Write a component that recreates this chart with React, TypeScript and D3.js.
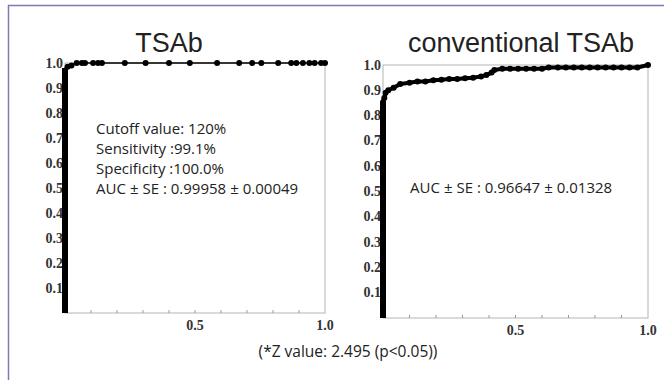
import React, { useRef, useEffect } from 'react';
import * as d3 from 'd3';

// TSAb ROC curve (1 - specificity, sensitivity)
const tsabFpr = [0, 0, 0.01, 0.025, 0.045, 0.065, 0.077, 0.108, 0.127, 0.142, 0.23, 0.31, 0.4, 0.48, 0.585, 0.67, 0.72, 0.755, 0.82, 0.87, 0.89, 0.915, 0.94, 0.96, 0.985, 1.0];
const tsabTpr = [0, 0.98, 0.985, 0.99, 1, 1, 1, 1, 1, 1, 1, 1, 1, 1, 1, 1, 1, 1, 1, 1, 1, 1, 1, 1, 1, 1];

// conventional TSAb ROC curve
const convFpr = [0, 0, 0.005, 0.01, 0.02, 0.04, 0.065, 0.1, 0.13, 0.16, 0.19, 0.22, 0.25, 0.28, 0.31, 0.34, 0.37, 0.39, 0.41, 0.42, 0.45, 0.48, 0.51, 0.54, 0.57, 0.6, 0.625, 0.66, 0.69, 0.72, 0.75, 0.78, 0.81, 0.84, 0.87, 0.9, 0.93, 0.96, 1.0];
const convTpr = [0, 0.86, 0.87, 0.89, 0.9, 0.91, 0.925, 0.93, 0.935, 0.935, 0.94, 0.942, 0.945, 0.945, 0.948, 0.95, 0.955, 0.96, 0.97, 0.98, 0.985, 0.985, 0.985, 0.985, 0.985, 0.985, 0.99, 0.99, 0.99, 0.99, 0.99, 0.99, 0.99, 0.99, 0.99, 0.99, 0.99, 0.99, 1.0];

const yTicks = [0.1, 0.2, 0.3, 0.4, 0.5, 0.6, 0.7, 0.8, 0.9, 1.0];
const xTicks = [0.5, 1.0];
const minorTicks = [0.1, 0.2, 0.3, 0.4, 0.5, 0.6, 0.7, 0.8, 0.9];

const leftNotes = ['Cutoff  value: 120%', 'Sensitivity :99.1%', 'Specificity :100.0%', 'AUC\u00B1SE : 0.99958\u00B10.00049'];
const rightNotes = ['AUC\u00B1SE : 0.96647\u00B10.01328'];

const App = () => {
  const ref = useRef<SVGSVGElement>(null);

  useEffect(() => {
    const svg = d3.select(ref.current);
    svg.selectAll('*').remove();

    svg.append('rect').attr('width', 664).attr('height', 380).attr('fill', '#fff');
    // outer frame (top + left)
    svg.append('path')
      .attr('d', 'M8.5,380 V5.5 H664')
      .attr('fill', 'none')
      .attr('stroke', '#8475b5')
      .attr('stroke-width', 1.5);

    // wide "±" like the original full-width glyph
    const writeNote = (t, s) => {
      s.split('\u00B1').forEach((part, k) => {
        if (k > 0) t.append('tspan').attr('dx', 4).text('\u00B1');
        t.append('tspan').attr('dx', k > 0 ? 4 : 0).text(part);
      });
    };

    const panel = (opts) => {
      const { x0, x1, y0, y1, fpr, tpr, title, titleX, notes, noteX, thick } = opts;
      const x = d3.scaleLinear().domain([0, 1]).range([x0, x1]);
      const y = d3.scaleLinear().domain([0, 1]).range([y0, y1]);
      const g = svg.append('g');

      // frame
      g.append('rect')
        .attr('x', x(0)).attr('y', y(1))
        .attr('width', x(1) - x(0)).attr('height', y(0) - y(1))
        .attr('fill', 'none').attr('stroke', '#b4b4b4').attr('stroke-width', 1);

      g.selectAll('.minor').data(minorTicks).join('line')
        .attr('x1', d => x(d)).attr('x2', d => x(d))
        .attr('y1', y(0)).attr('y2', y(0) - 3)
        .attr('stroke', '#999').attr('stroke-width', 1);

      g.selectAll('.ylab').data(yTicks).join('text')
        .attr('x', x(0) - 2).attr('y', d => y(d) + 4.5)
        .attr('text-anchor', 'end')
        .attr('font-family', 'Liberation Serif').attr('font-weight', 'bold')
        .attr('font-size', 14).attr('fill', '#333')
        .text(d => d.toFixed(1));

      g.selectAll('.xlab').data(xTicks).join('text')
        .attr('x', d => x(d)).attr('y', y(0) + 17)
        .attr('text-anchor', 'middle')
        .attr('font-family', 'Liberation Serif').attr('font-weight', 'bold')
        .attr('font-size', 14).attr('fill', '#333')
        .text(d => d.toFixed(1));

      const pts = fpr.map((f, i) => [f, tpr[i]]);
      const line = d3.line().x(d => x(d[0])).y(d => y(d[1]));

      if (thick) {
        g.append('path').attr('d', line(pts.filter(d => d[0] === 0)))
          .attr('stroke', '#000').attr('stroke-width', 6).attr('fill', 'none');
        g.append('path').attr('d', line(pts))
          .attr('stroke', '#000').attr('stroke-width', 1.5).attr('fill', 'none');
      } else {
        g.append('path').attr('d', line(pts))
          .attr('stroke', '#000').attr('stroke-width', 4).attr('fill', 'none')
          .attr('stroke-linejoin', 'round');
        g.append('path').attr('d', line(pts.filter(d => d[0] === 0)))
          .attr('stroke', '#000').attr('stroke-width', 6).attr('fill', 'none');
      }

      g.selectAll('circle').data(pts.filter(d => d[0] > 0)).join('circle')
        .attr('cx', d => x(d[0])).attr('cy', d => y(d[1]))
        .attr('r', 3).attr('fill', '#000');

      g.append('text')
        .attr('x', titleX).attr('y', 52)
        .attr('text-anchor', 'middle')
        .attr('font-family', 'Liberation Sans').attr('font-size', 27)
        .attr('fill', '#222')
        .text(title);

      notes.forEach((s, i) => {
        const t = g.append('text')
          .attr('x', noteX).attr('y', notes.length > 1 ? 134 + i * 20 : 193)
          .attr('font-family', 'Open Sans').attr('font-size', 15)
          .attr('fill', '#222');
        writeNote(t, s);
      });
    };

    panel({ x0: 65, x1: 325, y0: 313, y1: 63, fpr: tsabFpr, tpr: tsabTpr, title: 'TSAb', titleX: 169, notes: leftNotes, noteX: 96, thick: true });
    panel({ x0: 383, x1: 648, y0: 318, y1: 65, fpr: convFpr, tpr: convTpr, title: 'conventional TSAb', titleX: 521, notes: rightNotes, noteX: 410, thick: false });

    svg.append('text')
      .attr('x', 348).attr('y', 357)
      .attr('text-anchor', 'middle')
      .attr('font-family', 'Open Sans').attr('font-size', 15.5)
      .attr('fill', '#222')
      .text('(*Z value: 2.495 (p<0.05))');
  }, []);

  return <svg ref={ref} width={664} height={380} style={{ position: 'absolute', left: 0, top: 0 }} />;
};

export default App;
